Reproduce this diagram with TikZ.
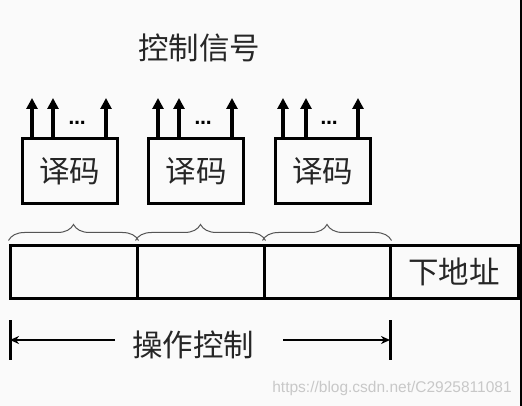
\documentclass[tikz,border=0pt]{standalone}
\usepackage{fontspec}
\newfontfamily\cjk{Noto Sans CJK SC}
\newfontfamily\dotsfont{DejaVu Sans}
\setsansfont{Liberation Sans}
\usetikzlibrary{arrows.meta,decorations.pathreplacing,calc}
\definecolor{bgc}{HTML}{FAFAFA}
\definecolor{brcol}{HTML}{555555}
\definecolor{wmc}{HTML}{C8C8C8}
\tikzset{
  cjkfont/.style={font=\cjk\fontsize{30.5}{31}\selectfont, text=black!85},
  cjktext/.style={cjkfont, inner sep=0pt},
  cell/.style={draw, line width=3pt, minimum height=53pt, inner sep=0pt},
  decbox/.style={draw, line width=3pt, minimum width=95pt, minimum height=65pt, inner sep=0pt, cjkfont},
  sig/.style={line width=3.5pt, -{Triangle[width=11pt,length=11pt]}},
  dots/.style={font=\dotsfont\bfseries\fontsize{17}{17}\selectfont, inner sep=0pt},
  brc/.style={draw=brcol, line width=1pt, decorate, decoration={brace, amplitude=16pt}},
  tick/.style={line width=3pt},
  dim/.style={line width=2pt, -{Stealth[length=9pt,width=8pt]}},
  wm/.style={font=\sffamily\fontsize{15.5}{16}\selectfont, text=wmc, inner sep=0pt},
}
\begin{document}
\begin{tikzpicture}[x=1pt,y=-1pt]
\fill[bgc] (0,0) rectangle (522,406);
\useasboundingbox (0,0) rectangle (522,406);
\fill[black] (520,0) rectangle (522,406);
% title
\node[cjktext] (title) at (199,48) {控制信号};
% decoder boxes
\node[decbox] (d1) at (69.5,171.5) {译码};
\node[decbox] (d2) at (196,171.5) {译码};
\node[decbox] (d3) at (322.5,171.5) {译码};
% signal arrows
\foreach \b/\xa/\xb/\xc/\xd in {d1/32/53/106/77, d2/158/179/232/203, d3/283/306/358/329}{
  \coordinate (\b a) at (\xa,98);
  \coordinate (\b b) at (\xb,98);
  \coordinate (\b c) at (\xc,98);
  \draw[sig] (\b.north -| \b a) -- (\b a);
  \draw[sig] (\b.north -| \b b) -- (\b b);
  \draw[sig] (\b.north -| \b c) -- (\b c);
  \node[dots] (\b dots) at (\xd,123) {…};
}
% microinstruction bar
\node[cell, minimum width=127pt] (c1) at (73.5,271.5) {};
\node[cell, minimum width=127pt] (c2) at (200.5,271.5) {};
\node[cell, minimum width=126pt] (c3) at (327,271.5) {};
\node[cell, minimum width=128pt, cjkfont] (c4) at (454,271.5) {下地址};
% braces
\foreach \c in {c1,c2,c3}{
  \draw[brc] ($(\c.north west)+(0,-3)$) -- ($(\c.north east)+(0,-3)$);
}
% operation control dimension
\coordinate (tl1) at (10,320); \coordinate (tl2) at (10,360);
\coordinate (tr1) at (390,320); \coordinate (tr2) at (390,360);
\draw[tick] (tl1) -- (tl2);
\draw[tick] (tr1) -- (tr2);
\node[cjktext] (op) at (193,345) {操作控制};
\coordinate (la) at (10,340); \coordinate (ra) at (390,340);
\draw[dim] (115,340) -- (la);
\draw[dim] (283,340) -- (ra);
% watermark
\node[wm] (wmk) at (392,388) {https://blog.csdn.net/C2925811081};
\end{tikzpicture}
\end{document}
